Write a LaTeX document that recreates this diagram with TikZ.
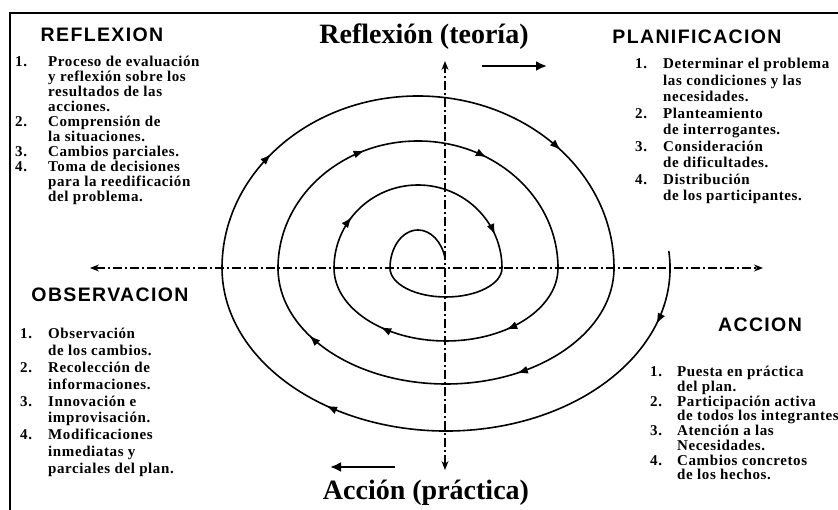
\documentclass[tikz,border=0pt]{standalone}
\usepackage{fontspec}
\setmainfont{Liberation Serif}
\newfontfamily\headfont[LetterSpace=7]{Liberation Sans}
\newfontfamily\itemfont[LetterSpace=4]{Liberation Serif}
\usetikzlibrary{arrows.meta,positioning,decorations.markings}

\begin{document}
\begin{tikzpicture}[
    x=1pt, y=1pt,
    heading/.style={font=\headfont\bfseries\fontsize{19.5}{21}\selectfont},
    axislabel/.style={font=\bfseries\fontsize{28}{30}\selectfont},
    items/.style={font=\itemfont\bfseries\fontsize{15}{#1}\selectfont, inner sep=0pt, anchor=north west},
    axisline/.style={{Stealth[length=9pt,width=7pt]}-{Stealth[length=9pt,width=7pt]}, line width=1.1pt, dash pattern=on 9pt off 3pt on 2pt off 3pt},
    way/.style={-{Latex[length=11pt,width=10pt]}, line width=2.8pt},
    coil/.style={line width=1.6pt},
    flowmark/.style={postaction={decorate, decoration={markings, mark=at position #1 with {\arrow{Latex[length=11pt,width=8pt]}}}}}
]
\useasboundingbox (0,0) rectangle (838,510);

% frame
\draw[line width=2pt] (10,0) -- (10,497) -- (838,497);

% headings
\node[heading] (refhead) at (102,475) {REFLEXION};
\node[heading] (planhead) at (697,473) {PLANIFICACION};
\node[heading] (obshead) at (110,215) {OBSERVACION};
\node[heading] (acchead) at (760,185) {ACCION};

% axis labels
\node[axislabel] (theory) at (424,473) {Reflexión (teoría)};
\node[axislabel] (practice) at (426,17) {Acción (práctica)};

% lists
\node[items=15] (reflist) at (15,454) {\begin{tabular}{@{}p{33pt}@{}l@{}}
1. & Proceso de evaluación\\
   & y reflexión sobre los\\
   & resultados de las\\
   & acciones.\\
2. & Comprensión de\\
   & la situaciones.\\
3. & Cambios parciales.\\
4. & Toma de decisiones\\
   & para la reedificación\\
   & del problema.
\end{tabular}};
\node[items=16.5] (planlist) at (635,453) {\begin{tabular}{@{}p{28pt}@{}l@{}}
1. & Determinar el problema\\
   & las condiciones y las\\
   & necesidades.\\
2. & Planteamiento\\
   & de interrogantes.\\
3. & Consideración\\
   & de dificultades.\\
4. & Distribución\\
   & de los participantes.
\end{tabular}};
\node[items=16.8] (obslist) at (20,183) {\begin{tabular}{@{}p{28pt}@{}l@{}}
1. & Observación\\
   & de los cambios.\\
2. & Recolección de\\
   & informaciones.\\
3. & Innovación e\\
   & improvisación.\\
4. & Modificaciones\\
   & inmediatas y\\
   & parciales del plan.
\end{tabular}};
\node[items=14.4] (acclist) at (650,144) {\begin{tabular}{@{}p{27pt}@{}l@{}}
1. & Puesta en práctica\\
   & del plan.\\
2. & Participación activa\\
   & de todos los integrantes\\
3. & Atención a las\\
   & Necesidades.\\
4. & Cambios concretos\\
   & de los hechos.
\end{tabular}};

% axes
\coordinate (ctop) at (445,449);
\coordinate (cbot) at (445,40);
\coordinate (cleft) at (90,242);
\coordinate (cright) at (763,242);
\draw[axisline] (cbot) -- (ctop);
\draw[axisline] (cleft) -- (cright);

% direction arrows
\coordinate (wayA) at (482,444);
\coordinate (wayB) at (547,444);
\coordinate (wayC) at (395,43);
\coordinate (wayD) at (330,43);
\draw[way] (wayA) -- (wayB);
\draw[way] (wayC) -- (wayD);

% spiral
\draw[coil, flowmark=0.12, flowmark=0.71] (668.8,259) arc[start angle=6, end angle=-180, x radius=224, y radius=163];
\draw[coil, flowmark=0.22, flowmark=0.77] (222,242) arc[start angle=180, end angle=0, x radius=196, y radius=172];
\draw[coil, flowmark=0.34, flowmark=0.83] (614,242) arc[start angle=0, end angle=-180, x radius=168, y radius=116];
\draw[coil, flowmark=0.37, flowmark=0.67] (278,242) arc[start angle=180, end angle=0, x radius=140, y radius=127];
\draw[coil, flowmark=0.29, flowmark=0.73] (558,242) arc[start angle=0, end angle=-180, x radius=112, y radius=73];
\draw[coil, flowmark=0.21, flowmark=0.87] (334,242) arc[start angle=180, end angle=0, x radius=84, y radius=83];
\draw[coil] (502,242) arc[start angle=0, end angle=-180, x radius=56, y radius=29];
\draw[coil] (390,242) arc[start angle=180, end angle=15, x radius=28, y radius=38];
\end{tikzpicture}
\end{document}
